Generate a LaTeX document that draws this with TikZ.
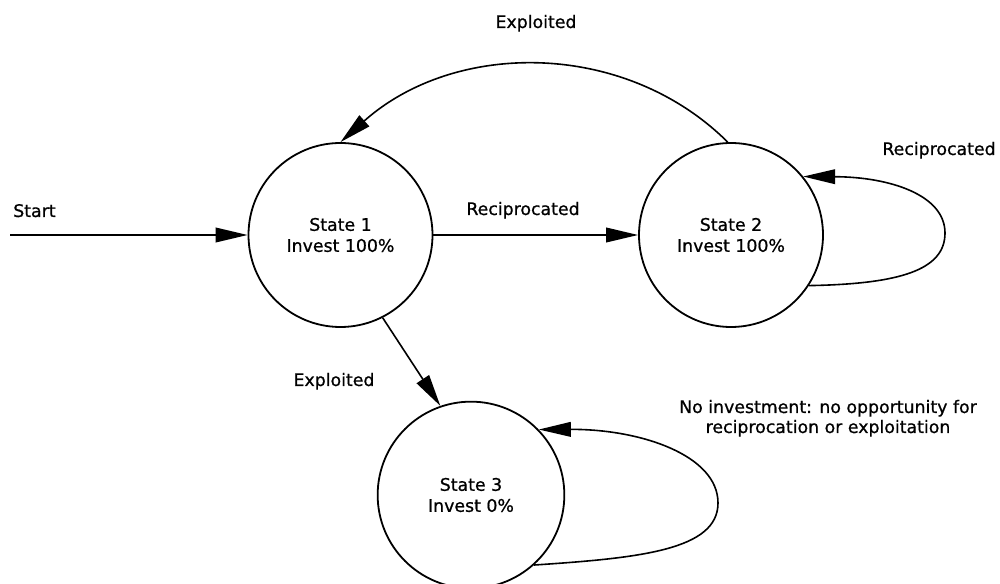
\documentclass[tikz,border=0pt]{standalone}
\usepackage{fontspec}
\setmainfont{DejaVu Sans}[FakeBold=0.8]
\usetikzlibrary{arrows.meta}
\begin{document}
\begin{tikzpicture}[x=0.75pt,y=-0.75pt,
  state/.style={draw,circle,line width=1.35pt,minimum size=138pt,inner sep=0pt,align=center,font=\fontsize{13}{15.75}\selectfont},
  lbl/.style={font=\fontsize{13}{15}\selectfont,inner sep=0pt},
  conn/.style={line width=1.2pt,-{Triangle[length=24pt,width=11pt]}}
]
\useasboundingbox (0,0) rectangle (1000,584);
\node[state] (s1) at (340.5,235) {State 1\\Invest 100\%};
\node[state] (s2) at (731,235) {State 2\\Invest 100\%};
\node[state,minimum size=140pt] (s3) at (471,495) {State 3\\Invest 0\%};
\coordinate (st) at (10,235);
\draw[conn] (st) -- (s1);
\draw[conn] (s1) -- (s2);
\draw[conn] (s2.92) .. controls (625,40) and (455,40) .. (s1.north);
\draw[conn] (s1.-63) -- (s3.109);
\draw[conn] (s2.-33) .. controls (900,284) and (945,270) .. (945,233) .. controls (945,195) and (890,177) .. (s2.39);
\draw[conn] (s3.-48) .. controls (640,558) and (718,550) .. (718,503) .. controls (718,455) and (640,429) .. (s3.44);
\node[lbl,anchor=base] (l1) at (536,28) {Exploited};
\node[lbl,anchor=base west] (l2) at (13,217) {Start};
\node[lbl,anchor=base] (l3) at (523,215) {Reciprocated};
\node[lbl,anchor=base] (l4) at (939,155) {Reciprocated};
\node[lbl,anchor=base] (l5) at (334,386) {Exploited};
\node[lbl,anchor=base] (l6) at (828,413) {No investment: no opportunity for};
\node[lbl,anchor=base] (l7) at (828,433) {reciprocation or exploitation};
\end{tikzpicture}
\end{document}
